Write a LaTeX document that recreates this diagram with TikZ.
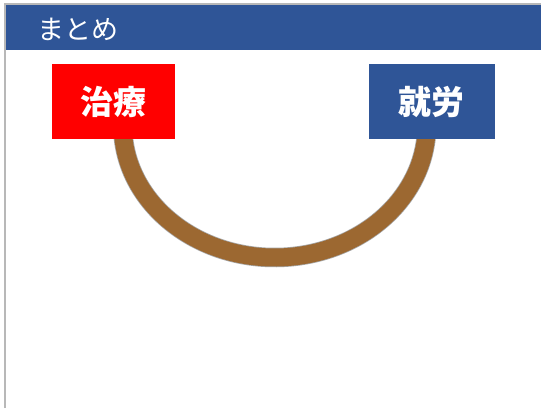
\documentclass[tikz,border=0pt]{standalone}
\usepackage{fontspec}
\newfontfamily\jpfont{Noto Sans CJK JP}
\usetikzlibrary{backgrounds}
\definecolor{hdrblue}{HTML}{2F5597}
\definecolor{arcbrown}{HTML}{9C6831}
\definecolor{framegray}{HTML}{B8B8B8}
\tikzset{
  labelbox/.style={minimum width=123pt, minimum height=75pt, inner sep=0pt, text=white,
    font=\jpfont\bfseries\fontsize{33}{36}\selectfont},
}
\begin{document}
\begin{tikzpicture}[x=1pt,y=-1pt]
\useasboundingbox (0,0) rectangle (541,408);
\node[anchor=west, text=white, inner sep=0pt, font=\jpfont\fontsize{27}{29}\selectfont] (title) at (37,29) {まとめ};
\node[labelbox, fill=red] (treat) at (113,101.5) {治療};
\node[labelbox, fill=hdrblue, minimum width=126pt] (work) at (431.5,101.5) {就労};
\coordinate (arcstart) at (123.3,137);
\begin{scope}[on background layer]
\fill[white] (0,0) rectangle (541,408);
\draw[framegray, line width=1.6pt] (5,408) -- (5,4) -- (541,4);
\fill[hdrblue] (5.8,4.8) rectangle (541,50);
\draw[gray!70, line width=19.5pt] (arcstart) arc[start angle=175, end angle=5, x radius=152, y radius=132];
\draw[arcbrown, line width=18pt] (arcstart) arc[start angle=175, end angle=5, x radius=152, y radius=132];
\end{scope}
\end{tikzpicture}
\end{document}
